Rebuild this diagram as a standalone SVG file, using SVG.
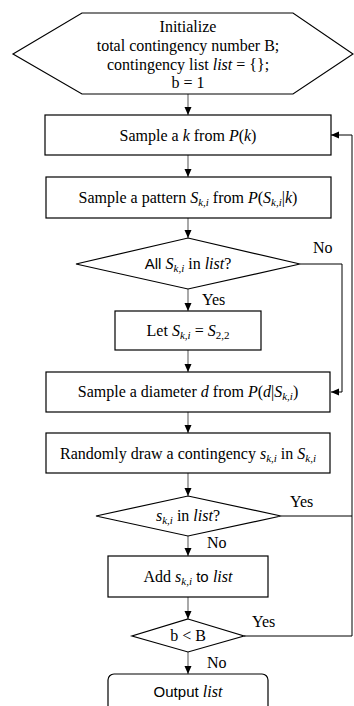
<svg xmlns="http://www.w3.org/2000/svg" width="354" height="706" viewBox="0 0 354 706">
<defs>
<style>
.node{fill:#fff;stroke:#000;stroke-width:1.2}
.t{font-family:"Liberation Serif","Times New Roman",serif;font-size:16px;fill:#000;text-anchor:middle}
.lbl{font-family:"Liberation Serif","Times New Roman",serif;font-size:16px;fill:#000}
.m{font-style:italic}
.s{font-family:"Liberation Sans",Arial,sans-serif;font-size:15px}
.sub{font-size:11px;font-style:italic}
.c{fill:none;stroke:#6f6f6f;stroke-width:1.2}
.cl{fill:none;stroke:#000;stroke-width:1}
</style>
<marker id="ah" markerUnits="userSpaceOnUse" markerWidth="9" markerHeight="8" refX="8" refY="4" orient="auto">
<path d="M0,0.5 L8,4 L0,7.5 z" fill="#000"/>
</marker>
</defs>
<rect width="354" height="706" fill="#fff"/>

<g id="connectors">
<line class="c" x1="188" y1="94" x2="188" y2="115" marker-end="url(#ah)"/>
<line class="c" x1="188" y1="155" x2="188" y2="177" marker-end="url(#ah)"/>
<line class="c" x1="188" y1="218" x2="188" y2="238" marker-end="url(#ah)"/>
<line class="c" x1="188" y1="289" x2="188" y2="311" marker-end="url(#ah)"/>
<line class="c" x1="188" y1="350" x2="188" y2="372" marker-end="url(#ah)"/>
<line class="c" x1="188" y1="412" x2="188" y2="433" marker-end="url(#ah)"/>
<line class="c" x1="188" y1="473" x2="188" y2="496" marker-end="url(#ah)"/>
<line class="c" x1="188" y1="536" x2="188" y2="556" marker-end="url(#ah)"/>
<line class="c" x1="188" y1="597" x2="188" y2="619" marker-end="url(#ah)"/>
<line class="c" x1="188" y1="652" x2="188" y2="674" marker-end="url(#ah)"/>
<polyline class="cl" points="300,264 342,264 342,392 331,392" marker-end="url(#ah)"/>
<polyline class="cl" points="281,516 352,516"/>
<polyline class="cl" points="244,636 352,636 352,135 331,135" marker-end="url(#ah)"/>
<text class="lbl" x="313" y="253">No</text>
<text class="lbl" x="202" y="305">Yes</text>
<text class="lbl" x="290" y="507">Yes</text>
<text class="lbl" x="207" y="548">No</text>
<text class="lbl" x="252" y="627">Yes</text>
<text class="lbl" x="207" y="668">No</text>
</g>

<g id="init">
<polygon class="node" points="13,54 82,13 293,13 353,54 293,94 82,94"/>
<text class="t" x="188" y="32">Initialize</text>
<text class="t" x="188" y="51">total contingency number B;</text>
<text class="t" x="188" y="70">contingency list <tspan class="m">list</tspan> = {};</text>
<text class="t" x="188" y="88">b = 1</text>
</g>

<g id="sample-k">
<rect class="node" x="45" y="115" width="286" height="40"/>
<text class="t" x="188" y="141">Sample a <tspan class="m">k</tspan> from <tspan class="m">P</tspan>(<tspan class="m">k</tspan>)</text>
</g>

<g id="sample-pattern">
<rect class="node" x="46" y="177" width="285" height="41"/>
<text class="t" x="188" y="203">Sample a pattern <tspan class="m">S</tspan><tspan class="sub" dy="3">k,i</tspan><tspan dy="-3"> from </tspan><tspan class="m">P</tspan>(<tspan class="m">S</tspan><tspan class="sub" dy="3">k,i</tspan><tspan dy="-3">|</tspan><tspan class="m">k</tspan>)</text>
</g>

<g id="all-in-list">
<polygon class="node" points="188,238 300,264 188,289 76,264"/>
<text class="t" x="188" y="269"><tspan class="s">All </tspan><tspan class="m">S</tspan><tspan class="sub" dy="3">k,i</tspan><tspan dy="-3"> in </tspan><tspan class="m">list</tspan>?</text>
</g>

<g id="let">
<rect class="node" x="115" y="311" width="146" height="39"/>
<text class="t" x="188" y="336">Let <tspan class="m">S</tspan><tspan class="sub" dy="3">k,i</tspan><tspan dy="-3"> = </tspan><tspan class="m">S</tspan><tspan dy="3" font-size="11px">2,2</tspan></text>
</g>

<g id="sample-diameter">
<rect class="node" x="46" y="372" width="284" height="40"/>
<text class="t" x="188" y="397">Sample a diameter <tspan class="m">d</tspan> from <tspan class="m">P</tspan>(<tspan class="m">d</tspan>|<tspan class="m">S</tspan><tspan class="sub" dy="3">k,i</tspan><tspan dy="-3">)</tspan></text>
</g>

<g id="draw-contingency">
<rect class="node" x="46" y="433" width="284" height="40"/>
<text class="t" x="188" y="459">Randomly draw a contingency <tspan class="m">s</tspan><tspan class="sub" dy="3">k,i</tspan><tspan dy="-3"> in </tspan><tspan class="m">S</tspan><tspan class="sub" dy="3">k,i</tspan></text>
</g>

<g id="s-in-list">
<polygon class="node" points="188,496 281,516 188,536 96,516"/>
<text class="t" x="188" y="521"><tspan class="m">s</tspan><tspan class="sub" dy="3">k,i</tspan><tspan dy="-3"> in </tspan><tspan class="m">list</tspan>?</text>
</g>

<g id="add">
<rect class="node" x="108" y="556" width="160" height="41"/>
<text class="t" x="188" y="582">Add <tspan class="m">s</tspan><tspan class="sub" dy="3">k,i</tspan><tspan dy="-3" class="s"> to </tspan><tspan class="m">list</tspan></text>
</g>

<g id="b-less-B">
<polygon class="node" points="188,619 244,636 188,652 132,636"/>
<text class="t" x="188" y="641">b &lt; B</text>
</g>

<g id="output">
<rect class="node" x="108" y="674" width="160" height="44" rx="6"/>
<text class="t" x="188" y="697"><tspan class="s">Output </tspan><tspan class="m">list</tspan></text>
</g>
</svg>
